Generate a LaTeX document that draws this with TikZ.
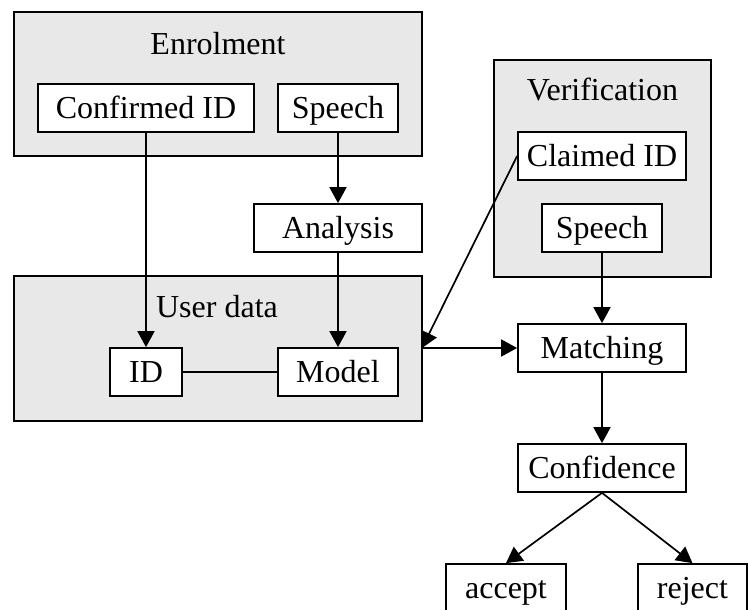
\documentclass[tikz,border=0pt]{standalone}
\usepackage{fontspec}
\setmainfont{Liberation Serif}
\usetikzlibrary{arrows.meta}
\definecolor{panelgray}{RGB}{232,232,232}
\begin{document}
\begin{tikzpicture}[x=1pt,y=-1pt,
  every node/.style={font=\fontsize{32}{38}\selectfont},
  panel/.style={draw, line width=1.7pt, fill=panelgray, inner sep=0pt},
  plain/.style={draw, line width=1.7pt, fill=white, inner sep=0pt, text height=21pt, text depth=0pt, minimum height=48pt},
  title/.style={inner sep=0pt, text height=21pt, text depth=0pt},
  conn/.style={line width=1.7pt},
  arr/.style={conn, -{Triangle[length=16pt,width=17pt]}}]
\useasboundingbox (0,0) rectangle (748,610);
% panels
\node[panel, minimum width=408pt, minimum height=144pt] (enrol) at (218,84) {};
\node[title] (enrolt) at (218,44) {Enrolment};
\node[panel, minimum width=408pt, minimum height=145pt] (user) at (218,348.5) {};
\node[title] (usert) at (217,306.5) {User data};
\node[panel, minimum width=217pt, minimum height=217pt] (verif) at (602.5,168.5) {};
\node[title] (veriftt) at (602.5,90.5) {Verification};
% boxes
\node[plain, minimum width=216pt] (confid) at (146,108) {Confirmed ID};
\node[plain, minimum width=120pt] (speechA) at (338,108) {Speech};
\node[plain, minimum width=168pt] (analysis) at (338,228) {Analysis};
\node[plain, minimum width=72pt] (id) at (146,372) {ID};
\node[plain, minimum width=120pt] (model) at (338,372) {Model};
\node[plain, minimum width=168pt] (claimed) at (602,156) {Claimed ID};
\node[plain, minimum width=120pt] (speechB) at (602,228) {Speech};
\node[plain, minimum width=168pt] (matching) at (602,348) {Matching};
\node[plain, minimum width=168pt] (conf) at (602,468) {Confidence};
\node[plain, minimum width=120pt] (accept) at (506,588) {accept};
\node[plain, minimum width=109pt] (reject) at (692.5,588) {reject};
\coordinate (join) at (422,348);
% connectors
\draw[arr] (confid.south) -- (id.north);
\draw[arr] (speechA.south) -- (analysis.north);
\draw[arr] (analysis.south) -- (model.north);
\draw[conn] (id.east) -- (model.west);
\draw[arr] (claimed.west) -- (join);
\draw[arr] (join) -- (matching.west);
\draw[arr] (speechB.south) -- (matching.north);
\draw[arr] (matching.south) -- (conf.north);
\draw[arr] (conf.south) -- (accept.north);
\draw[arr] (conf.south) -- (reject.north);
\end{tikzpicture}
\end{document}
